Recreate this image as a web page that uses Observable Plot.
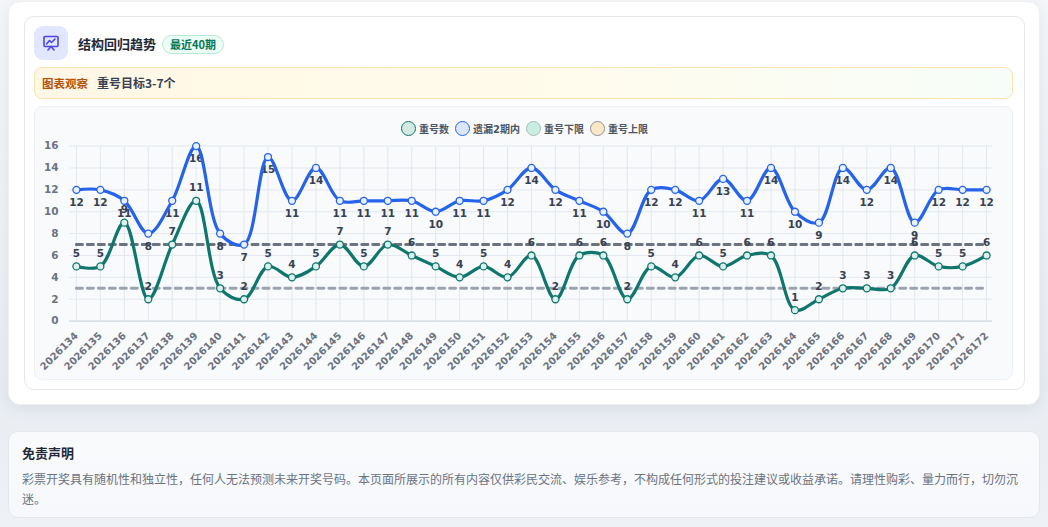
<!DOCTYPE html>
<html><head><meta charset="utf-8">
<script src="https://cdn.jsdelivr.net/npm/d3@7"></script>
<script src="https://cdn.jsdelivr.net/npm/@observablehq/plot@0.6"></script>
<style>
html,body{margin:0;padding:0;}
body{width:1048px;height:527px;position:relative;overflow:hidden;background:linear-gradient(#f4f6f9,#e9edf2 75%,#eef1f5);font-family:"Noto Sans CJK SC","Noto Sans",sans-serif;}
.abs{position:absolute;box-sizing:border-box;}
#outer{left:8px;top:1px;width:1032px;height:404px;background:#fff;border-radius:12px;box-shadow:0 4px 14px rgba(100,116,139,0.12);border:1px solid #eef0f3;}
#inner{left:24px;top:16px;width:1001px;height:374px;background:#fff;border:1px solid #e5e7eb;border-radius:10px;}
#icon{left:34px;top:26px;width:34px;height:34px;border-radius:9px;background:#e0e7ff;display:flex;align-items:center;justify-content:center;}
#title{left:78px;top:34px;font-size:13px;font-weight:700;color:#1f2937;line-height:20px;}
#badge{left:162px;top:35px;height:19px;padding:0 7px;border-radius:10px;background:#ecfdf5;border:1px solid #b7ead5;color:#047857;font-size:11px;font-weight:700;line-height:17px;}
#obs{left:34px;top:67px;width:979px;height:32px;border-radius:8px;background:linear-gradient(90deg,#fff7e6,#fffbeb 50%,#f7fdf9);border:1px solid #fbe3b0;font-size:12px;line-height:30px;padding-left:7px;}
#obs .k{color:#b45309;font-weight:700;font-size:11.5px;margin-right:9px;}
#obs .v{color:#374151;font-weight:700;}
#chart{left:34px;top:106px;width:979px;height:274px;background:#f8fafc;border:1px solid #edf1f6;border-radius:8px;}
#legend{left:0;top:14px;width:979px;display:flex;justify-content:center;gap:0;font-family:"DejaVu Sans","Noto Sans CJK SC",sans-serif;font-size:10px;font-weight:700;color:#4b5563;}
#legend .it{display:flex;align-items:center;margin:0 3px;}
#legend .sw{width:15px;height:15px;border-radius:50%;box-sizing:border-box;border:1.5px solid;margin-right:3px;}
#plot{left:0;top:30px;}
#disc{left:8px;top:431px;width:1032px;height:87px;background:linear-gradient(#f8fafc,#f6f8fb);border:1px solid #e5e7eb;border-radius:10px;padding:11px 13px;}
#disc .t{font-size:13px;font-weight:700;color:#1f2937;line-height:20px;}
#disc .p{font-size:12px;color:#6b7280;line-height:20px;margin-top:6px;}
</style></head>
<body>
<div id="outer" class="abs"></div>
<div id="inner" class="abs"></div>
<div id="icon" class="abs"><svg width="18" height="18" viewBox="0 0 18 18" fill="none" stroke="#4f46e5" stroke-width="1.6" stroke-linecap="round" stroke-linejoin="round"><rect x="2" y="2.5" width="14" height="10" rx="1"/><polyline points="4.5,10 7.5,6.5 9.5,8.5 13,5"/><line x1="9" y1="12.5" x2="6" y2="16"/><line x1="9" y1="12.5" x2="12" y2="16"/></svg></div>
<div id="title" class="abs">结构回归趋势</div>
<div id="badge" class="abs">最近40期</div>
<div id="obs" class="abs"><span class="k">图表观察</span><span class="v">重号目标3-7个</span></div>
<div id="chart" class="abs">
  <div id="legend" class="abs"></div>
  <div id="plot" class="abs"></div>
</div>
<div id="disc" class="abs"><div class="t">免责声明</div><div class="p">彩票开奖具有随机性和独立性，任何人无法预测未来开奖号码。本页面所展示的所有内容仅供彩民交流、娱乐参考，不构成任何形式的投注建议或收益承诺。请理性购彩、量力而行，切勿沉迷。</div></div>
<script>
// ---- data ----
const periods = ["2026134","2026135","2026136","2026137","2026138","2026139","2026140","2026141","2026142","2026143","2026144","2026145","2026146","2026147","2026148","2026149","2026150","2026151","2026152","2026153","2026154","2026155","2026156","2026157","2026158","2026159","2026160","2026161","2026162","2026163","2026164","2026165","2026166","2026167","2026168","2026169","2026170","2026171","2026172"];
const repeatCount = [5,5,9,2,7,11,3,2,5,4,5,7,5,7,6,5,4,5,4,6,2,6,6,2,5,4,6,5,6,6,1,2,3,3,3,6,5,5,6];
const missWithin2 = [12,12,11,8,11,16,8,7,15,11,14,11,11,11,11,10,11,11,12,14,12,11,10,8,12,12,11,13,11,14,10,9,14,12,14,9,12,12,12];
const lowerLimit = 3;
const upperLimit = 7;
const yTicks = [0,2,4,6,8,10,12,14,16];
const seriesNames = ["重号数","遗漏2期内","重号下限","重号上限"];

const green = "#0f766e", blue = "#2563eb";
const legendStyles = [
  {fill:"#d3e8e3", stroke:green},
  {fill:"#dbe6fb", stroke:blue},
  {fill:"#c8eee2", stroke:"#a7bdb6"},
  {fill:"#fbe8c4", stroke:"#8c909a"}
];
const lg = document.getElementById("legend");
seriesNames.forEach((n,i)=>{
  const it = document.createElement("div"); it.className="it";
  const sw = document.createElement("div"); sw.className="sw";
  sw.style.background = legendStyles[i].fill; sw.style.borderColor = legendStyles[i].stroke;
  it.appendChild(sw); const t=document.createElement("span"); t.textContent=n; it.appendChild(t);
  lg.appendChild(it);
});

const rows = periods.map((p,i)=>({p, rep: repeatCount[i], miss: missWithin2[i], lo: lowerLimit, hi: upperLimit}));
const font = "DejaVu Sans, Noto Sans CJK SC, sans-serif";

const chart = Plot.plot({
  width: 979, height: 244,
  marginLeft: 34, marginRight: 20, marginTop: 8.6, marginBottom: 60,
  style: {background: "transparent", fontFamily: font, overflow: "hidden"},
  x: {type: "point", domain: periods, padding: 0},
  y: {domain: [0,16], ticks: yTicks},
  marks: [
    Plot.gridY(yTicks, {stroke: "#e3e8ee", strokeOpacity: 1}),
    Plot.ruleX(periods, {stroke: "#e3e8ee", strokeOpacity: 1}),
    Plot.ruleY([0], {stroke: "#cfd6df"}),
    Plot.axisY({ticks: yTicks, tickSize: 0, tickPadding: 11, fontSize: 10.5, fontWeight: "bold", fill: "#6b7280", label: null}),
    Plot.axisX({tickRotate: -45, tickSize: 0, tickPadding: 13, fontSize: 10, fontWeight: "bold", fill: "#6b7280", label: null}),
    Plot.lineY(rows, {x: "p", y: "lo", stroke: "#9ca3af", strokeWidth: 3, strokeDasharray: "6,5"}),
    Plot.lineY(rows, {x: "p", y: "hi", stroke: "#6b7280", strokeWidth: 3, strokeDasharray: "6,5"}),
    Plot.text(rows, {x: "p", y: "rep", text: d => String(d.rep), dy: -13, fontSize: 10.5, fontWeight: "bold", fill: "#374151"}),
    Plot.text(rows, {x: "p", y: "miss", text: d => String(d.miss), dy: 13, fontSize: 10.5, fontWeight: "bold", fill: "#374151"}),
    Plot.lineY(rows, {x: "p", y: "miss", stroke: blue, strokeWidth: 3.2, curve: "catmull-rom"}),
    Plot.lineY(rows, {x: "p", y: "rep", stroke: green, strokeWidth: 3.2, curve: "catmull-rom"}),
    Plot.dot(rows, {x: "p", y: "miss", r: 3.5, fill: "#e8effd", stroke: blue, strokeWidth: 1.3}),
    Plot.dot(rows, {x: "p", y: "rep", r: 3.5, fill: "#dcefeb", stroke: green, strokeWidth: 1.3})
  ]
});
document.getElementById("plot").appendChild(chart);
</script>
</body></html>
